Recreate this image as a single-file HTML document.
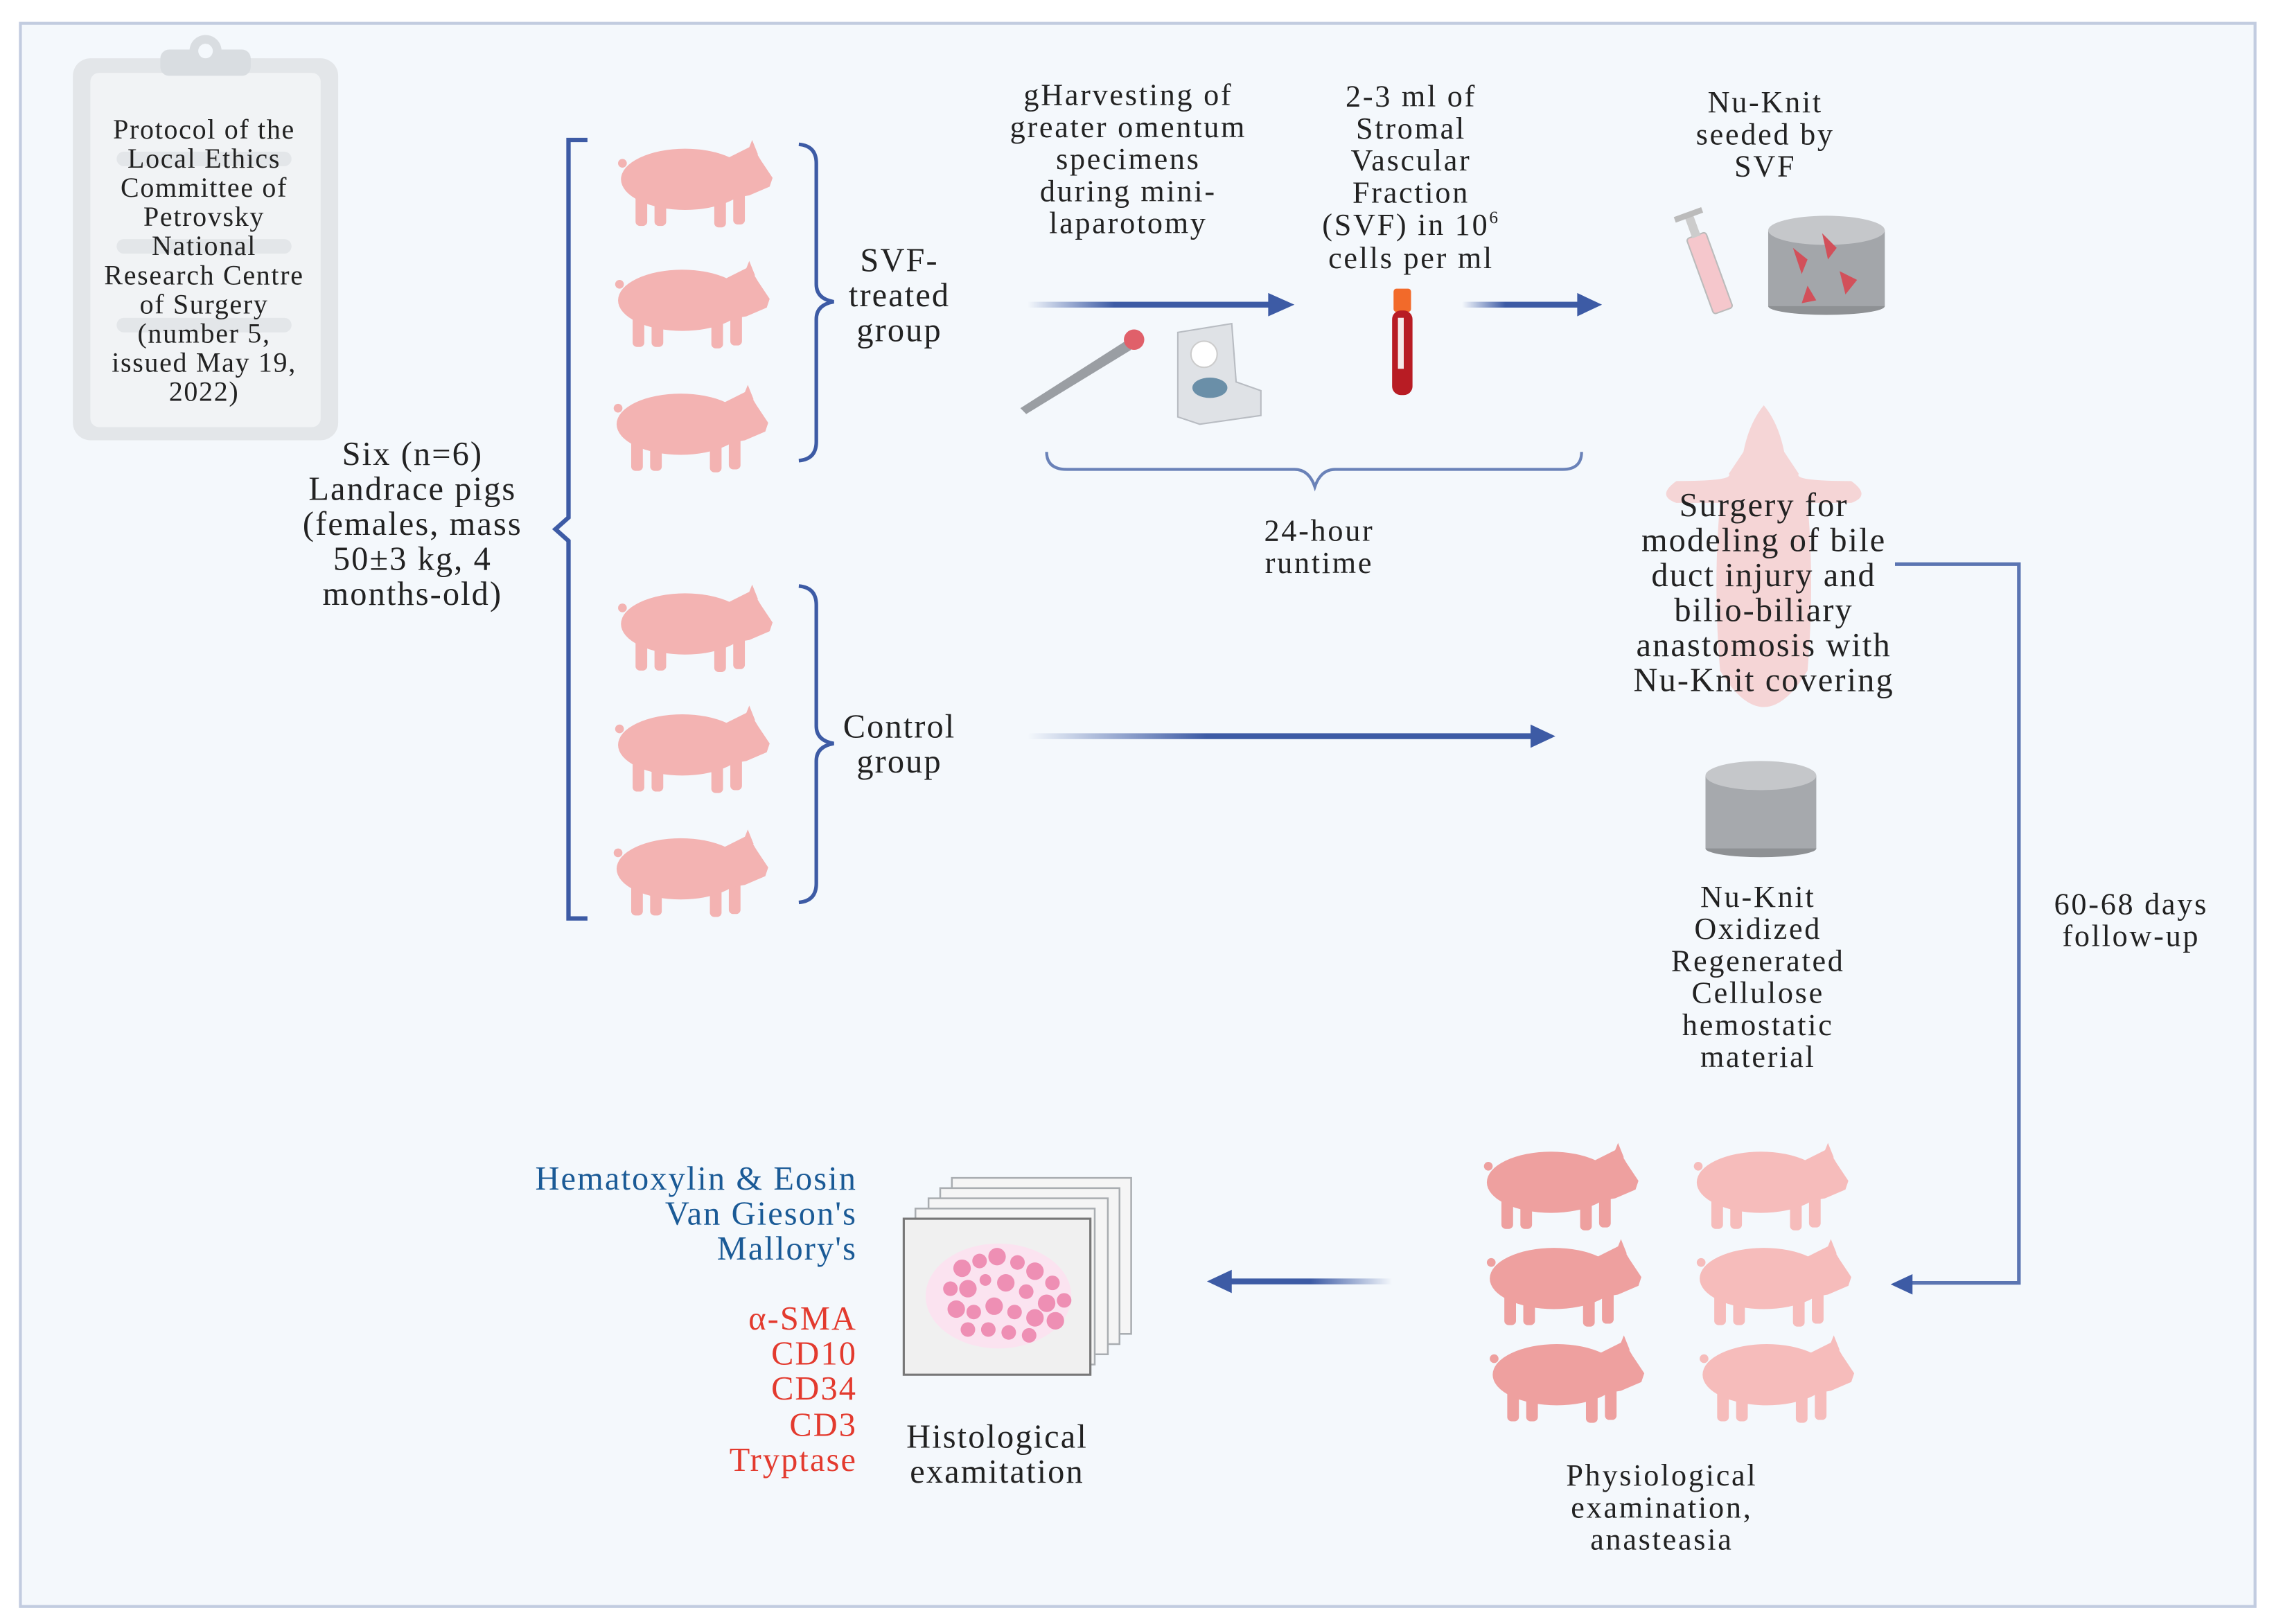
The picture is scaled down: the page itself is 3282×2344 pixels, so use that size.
<!DOCTYPE html>
<html><head><meta charset="utf-8"><style>
html,body{margin:0;padding:0;background:#fff}
svg{display:block}
text{font-family:"Liberation Serif",serif;fill:#222}
.s{font-size:21px;letter-spacing:1.3px}
.b{font-size:23px;letter-spacing:1px}
.c{font-size:19px;letter-spacing:0.8px}
</style></head><body>
<svg width="3282" height="2344" viewBox="0 0 1560 1114" preserveAspectRatio="none" xmlns="http://www.w3.org/2000/svg">
<defs>
<linearGradient id="ga" x1="0" x2="1" y1="0" y2="0"><stop offset="0" stop-color="#3d5ba5" stop-opacity="0"/><stop offset="0.35" stop-color="#3d5ba5"/><stop offset="1" stop-color="#3d5ba5"/></linearGradient>
<linearGradient id="gl" x1="1" x2="0" y1="0" y2="0"><stop offset="0" stop-color="#3d5ba5" stop-opacity="0"/><stop offset="0.5" stop-color="#3d5ba5"/><stop offset="1" stop-color="#3d5ba5"/></linearGradient>
<g id="pig">
 <rect x="12" y="34" width="8" height="25" rx="3"/>
 <rect x="25" y="36" width="8" height="23" rx="3"/>
 <rect x="66" y="36" width="8" height="24" rx="3"/>
 <rect x="79" y="34" width="8" height="24" rx="3"/>
 <ellipse cx="46" cy="27" rx="44" ry="21"/>
 <path d="M76 12 L92 4 L98 14 L106 26 L104 32 L90 38 L78 40 Z"/>
 <path d="M88 10 L92 0 L96 10 Z"/>
 <circle cx="3" cy="16" r="3"/>
</g>
</defs>
<rect x="14" y="16" width="1533" height="1086" fill="#f4f8fc" stroke="#c2cce0" stroke-width="2"/>
<!-- clipboard -->
<rect x="50" y="40" width="182" height="262" rx="12" fill="#e3e6e9"/>
<rect x="62" y="50" width="158" height="243" rx="6" fill="#f1f3f5"/>
<rect x="110" y="34" width="62" height="18" rx="6" fill="#d9dde1"/>
<circle cx="141" cy="35" r="11" fill="#d9dde1"/><circle cx="141" cy="35" r="5" fill="#f4f8fc"/>
<g fill="#e3e6e9"><rect x="80" y="104" width="120" height="10" rx="5"/><rect x="80" y="164" width="120" height="10" rx="5"/><rect x="80" y="218" width="120" height="10" rx="5"/></g>
<g class="c" text-anchor="middle">
<text x="140" y="95">Protocol of the</text><text x="140" y="115">Local Ethics</text><text x="140" y="135">Committee of</text><text x="140" y="155">Petrovsky</text><text x="140" y="175">National</text><text x="140" y="195">Research Centre</text><text x="140" y="215">of Surgery</text><text x="140" y="235">(number 5,</text><text x="140" y="255">issued May 19,</text><text x="140" y="275">2022)</text>
</g>
<g class="b" text-anchor="middle">
<text x="283" y="319">Six (n=6)</text><text x="283" y="343">Landrace pigs</text><text x="283" y="367">(females, mass</text><text x="283" y="391">50±3 kg, 4</text><text x="283" y="415">months-old)</text>
<text x="617" y="186">SVF-</text><text x="617" y="210">treated</text><text x="617" y="234">group</text>
<text x="617" y="506">Control</text><text x="617" y="530">group</text>
</g>
<!-- big bracket -->
<path d="M403 96 H390 V355 L381 363 L390 371 V630 H403" fill="none" stroke="#3d5ba5" stroke-width="3"/>
<path d="M548 99 Q560 100 560 112 V195 Q560 205 572 207 Q560 209 560 219 V303 Q560 315 548 316" fill="none" stroke="#3d5ba5" stroke-width="2.5"/>
<path d="M548 402 Q560 403 560 415 V498 Q560 508 572 510 Q560 512 560 522 V606 Q560 618 548 619" fill="none" stroke="#3d5ba5" stroke-width="2.5"/>
<!-- pigs left -->
<g fill="#f3b3b2">
<use href="#pig" x="424" y="96"/><use href="#pig" x="422" y="179"/><use href="#pig" x="421" y="264"/>
<use href="#pig" x="424" y="401"/><use href="#pig" x="422" y="484"/><use href="#pig" x="421" y="569"/>
</g>
<!-- top texts -->
<g class="s" text-anchor="middle">
<text x="774" y="72">gHarvesting of</text><text x="774" y="94">greater omentum</text><text x="774" y="116">specimens</text><text x="774" y="138">during mini-</text><text x="774" y="160">laparotomy</text>
<text x="968" y="73">2-3 ml of</text><text x="968" y="95">Stromal</text><text x="968" y="117">Vascular</text><text x="968" y="139">Fraction</text><text x="968" y="161">(SVF)  in 10<tspan font-size="12" dy="-8">6</tspan></text><text x="968" y="184">cells per ml</text>
<text x="1211" y="77">Nu-Knit</text><text x="1211" y="99">seeded by</text><text x="1211" y="121">SVF</text>
<text x="905" y="371">24-hour</text><text x="905" y="393">runtime</text>
<text x="1462" y="627">60-68 days</text><text x="1462" y="649">follow-up</text>
<text x="1206" y="622">Nu-Knit</text><text x="1206" y="644">Oxidized</text><text x="1206" y="666">Regenerated</text><text x="1206" y="688">Cellulose</text><text x="1206" y="710">hemostatic</text><text x="1206" y="732">material</text>
<text x="1140" y="1019">Physiological</text><text x="1140" y="1041">examination,</text><text x="1140" y="1063">anasteasia</text>
</g>
<!-- arrows -->
<rect x="705" y="207" width="170" height="4" fill="url(#ga)"/><path d="M870 201 L888 209 L870 217 Z" fill="#3d5ba5"/>
<rect x="1003" y="207" width="85" height="4" fill="url(#ga)"/><path d="M1082 201 L1099 209 L1082 217 Z" fill="#3d5ba5"/>
<rect x="705" y="503" width="350" height="4" fill="url(#ga)"/><path d="M1050 497 L1067 505 L1050 513 Z" fill="#3d5ba5"/>
<rect x="843" y="877" width="112" height="4" fill="url(#gl)"/><path d="M845 871 L828 879 L845 887 Z" fill="#3d5ba5"/>
<path d="M1300 387 H1385 V880 H1310" fill="none" stroke="#4a66aa" stroke-width="2.5" opacity="0.9"/>
<path d="M1312 874 L1297 881 L1312 888 Z" fill="#3d5ba5"/>
<!-- tools -->
<path d="M700 280 L772 234 L776 240 L704 284 Z" fill="#9a9ea3"/>
<circle cx="778" cy="233" r="7" fill="#e0606a"/>
<path d="M808 228 L845 222 L848 262 L865 268 L865 285 L823 291 L808 286 Z" fill="#dfe2e6" stroke="#b8bcc2"/>
<circle cx="826" cy="243" r="9" fill="#fff" stroke="#ccc"/><ellipse cx="830" cy="266" rx="12" ry="7" fill="#6a8fa8"/>
<rect x="956" y="198" width="12" height="16" rx="2" fill="#f26a2a"/>
<rect x="955" y="213" width="14" height="58" rx="6" fill="#b81c24"/><rect x="959" y="218" width="4" height="35" fill="#f5eaea"/>
<!-- syringe and nu-knit -->
<g transform="rotate(-20 1172 185)"><rect x="1165" y="160" width="14" height="55" rx="2" fill="#f5c7cc" stroke="#bbb"/><rect x="1169" y="145" width="6" height="16" fill="#ccc"/><rect x="1162" y="143" width="20" height="4" fill="#bbb"/></g>
<ellipse cx="1253" cy="210" rx="40" ry="6" fill="#8e9194"/>
<rect x="1213" y="158" width="80" height="52" fill="#a3a6aa"/>
<ellipse cx="1253" cy="158" rx="40" ry="10" fill="#c5c7ca"/>
<g fill="#d2505a"><path d="M1230 170 l10 8 l-4 10 z"/><path d="M1250 160 l10 10 l-6 8 z"/><path d="M1262 186 l12 6 l-8 10 z"/><path d="M1240 196 l6 10 l-10 2 z"/></g>
<ellipse cx="1208" cy="582" rx="38" ry="6" fill="#8e9194"/>
<rect x="1170" y="532" width="76" height="50" fill="#a6a9ad"/>
<ellipse cx="1208" cy="532" rx="38" ry="10" fill="#c5c7ca"/>
<!-- surgery pig silhouette -->
<g fill="#f6caca" opacity="0.75">
<path d="M1210 278 Q1200 290 1196 310 L1186 325 Q1190 330 1150 330 Q1136 340 1150 345 L1180 345 Q1175 400 1180 460 Q1195 485 1210 485 Q1225 485 1240 460 Q1245 400 1240 345 L1270 345 Q1284 340 1270 330 Q1230 330 1234 325 L1224 310 Q1220 290 1210 278 Z"/>
</g>
<g class="b" text-anchor="middle">
<text x="1210" y="354">Surgery for</text><text x="1210" y="378">modeling of bile</text><text x="1210" y="402">duct injury and</text><text x="1210" y="426">bilio-biliary</text><text x="1210" y="450">anastomosis with</text><text x="1210" y="474">Nu-Knit covering</text>
</g>
<!-- bottom pigs -->
<g fill="#eea09f"><use href="#pig" x="1018" y="784"/><use href="#pig" x="1020" y="850"/><use href="#pig" x="1022" y="916"/></g>
<g fill="#f6bcbb"><use href="#pig" x="1162" y="784"/><use href="#pig" x="1164" y="850"/><use href="#pig" x="1166" y="916"/></g>
<!-- slides -->
<g fill="#f5f5f5" stroke="#a9adb1" stroke-width="1.2">
<rect x="653" y="808" width="123" height="107"/><rect x="645" y="815" width="123" height="107"/><rect x="637" y="822" width="123" height="107"/><rect x="628" y="829" width="123" height="107"/>
<rect x="620" y="836" width="128" height="107" fill="#f0f0f0" stroke="#777" stroke-width="1.5"/>
</g>
<ellipse cx="685" cy="889" rx="50" ry="36" fill="#fbe3f0"/>
<g fill="#ee8fb4">
<circle cx="660" cy="870" r="6"/><circle cx="672" cy="865" r="5"/><circle cx="684" cy="862" r="6"/><circle cx="698" cy="866" r="5"/><circle cx="710" cy="872" r="6"/><circle cx="722" cy="880" r="5"/><circle cx="652" cy="884" r="5"/><circle cx="664" cy="884" r="6"/><circle cx="676" cy="878" r="4"/><circle cx="690" cy="880" r="6"/><circle cx="704" cy="886" r="5"/><circle cx="718" cy="894" r="6"/><circle cx="730" cy="892" r="5"/><circle cx="656" cy="898" r="6"/><circle cx="668" cy="900" r="5"/><circle cx="682" cy="896" r="6"/><circle cx="696" cy="900" r="5"/><circle cx="710" cy="904" r="6"/><circle cx="724" cy="906" r="6"/><circle cx="664" cy="912" r="5"/><circle cx="678" cy="912" r="5"/><circle cx="692" cy="914" r="5"/><circle cx="706" cy="916" r="5"/>
</g>
<g class="b" text-anchor="middle"><text x="684" y="993">Histological</text><text x="684" y="1017">examitation</text></g>
<g class="b" text-anchor="end">
<text x="588" y="816" style="fill:#1a5a96">Hematoxylin &amp; Eosin</text><text x="588" y="840" style="fill:#1a5a96">Van Gieson's</text><text x="588" y="864" style="fill:#1a5a96">Mallory's</text>
<text x="588" y="912" style="fill:#e33a2e">α-SMA</text><text x="588" y="936" style="fill:#e33a2e">CD10</text><text x="588" y="960" style="fill:#e33a2e">CD34</text><text x="588" y="985" style="fill:#e33a2e">CD3</text><text x="588" y="1009" style="fill:#e33a2e">Tryptase</text>
</g>
<path d="M718 310 Q718 322 732 322 H888 Q898 322 902 334 Q906 322 916 322 H1072 Q1085 322 1085 310" fill="none" stroke="#6a82b8" stroke-width="2"/>
</svg>
</body></html>
